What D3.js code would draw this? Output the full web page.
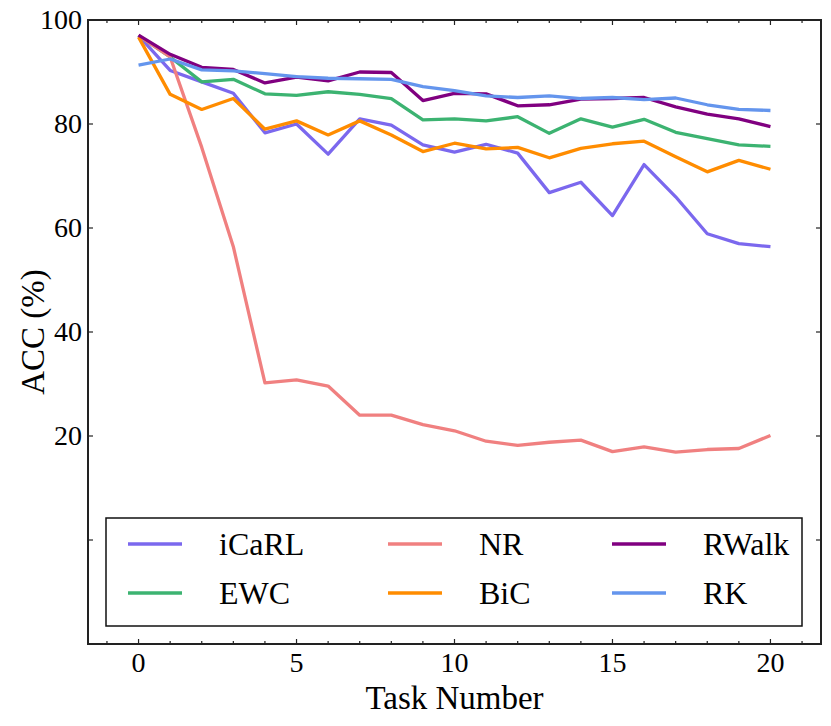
<!DOCTYPE html>
<html>
<head>
<meta charset="utf-8">
<script src="https://cdn.jsdelivr.net/npm/d3@7/dist/d3.min.js"></script>
<style>
  html, body { margin: 0; padding: 0; background: #fff; }
  svg { display: block; }
</style>
</head>
<body>
<svg id="chart" width="831" height="726"></svg>
<script>
const tasks = d3.range(0, 21);
const seriesNames = ["iCaRL", "EWC", "NR", "BiC", "RWalk", "RK"];
const seriesColors = ["#7b68ee", "#3cb371", "#f08080", "#ff8c00", "#800080", "#6495ed"];
const iCaRL = [97.0, 90.3, 88.1, 85.9, 78.3, 80.0, 74.2, 81.0, 79.8, 76.0, 74.6, 76.1, 74.4, 66.8, 68.8, 62.4, 72.2, 66.0, 58.9, 57.0, 56.4];
const EWC   = [97.0, 92.9, 88.1, 88.6, 85.8, 85.5, 86.2, 85.7, 84.9, 80.8, 81.0, 80.6, 81.4, 78.2, 81.0, 79.4, 80.9, 78.4, 77.2, 76.0, 75.7];
const NR    = [97.0, 92.9, 75.5, 56.4, 30.2, 30.8, 29.6, 24.0, 24.0, 22.2, 21.0, 19.0, 18.2, 18.8, 19.2, 17.0, 17.9, 16.9, 17.4, 17.6, 20.1];
const BiC   = [96.7, 85.7, 82.8, 84.9, 79.0, 80.6, 77.9, 80.6, 77.9, 74.7, 76.3, 75.2, 75.5, 73.5, 75.3, 76.2, 76.7, 73.7, 70.8, 73.0, 71.3];
const RWalk = [97.1, 93.4, 90.9, 90.5, 87.9, 89.0, 88.3, 90.0, 89.9, 84.5, 85.9, 85.8, 83.5, 83.7, 84.8, 84.9, 85.1, 83.3, 81.9, 81.0, 79.5];
const RK    = [91.3, 92.5, 90.4, 90.2, 89.7, 89.1, 88.8, 88.7, 88.6, 87.2, 86.4, 85.4, 85.1, 85.4, 84.9, 85.1, 84.7, 85.0, 83.7, 82.8, 82.6];
const seriesValues = [iCaRL, EWC, NR, BiC, RWalk, RK];
const xTicks = [0, 5, 10, 15, 20];
const xMinorTicks = d3.range(-1, 22);
const yTicks = [0, 20, 40, 60, 80, 100];
const yTickLabels = ["", "20", "40", "60", "80", "100"];
const xLabel = "Task Number";
const yLabel = "ACC (%)";

const FONT = "Liberation Serif";
const svg = d3.select("#chart");
const L = 88, R = 821, T = 20, B = 644;
const x = d3.scaleLinear().domain([-1.6, 21.6]).range([L, R]);
const y = d3.scaleLinear().domain([-20, 100]).range([B, T]);

const axisColor = "#222";
const majorLen = 5, minorLen = 3;

// lines
const line = d3.line().x((d, i) => x(tasks[i])).y(d => y(d));
const g = svg.append("g");
seriesValues.forEach((vals, k) => {
  g.append("path")
    .datum(vals)
    .attr("d", line)
    .attr("fill", "none")
    .attr("stroke", seriesColors[k])
    .attr("stroke-width", 3.3)
    .attr("stroke-linejoin", "round")
    .attr("stroke-linecap", "butt");
});

// ticks (inward, on all sides)
const ticks = svg.append("g").attr("stroke", axisColor).attr("stroke-width", 1.2);
xMinorTicks.forEach(t => {
  const len = xTicks.includes(t) ? majorLen : minorLen;
  const px = x(t);
  ticks.append("line").attr("x1", px).attr("x2", px).attr("y1", B).attr("y2", B - len);
  ticks.append("line").attr("x1", px).attr("x2", px).attr("y1", T).attr("y2", T + len);
});
yTicks.forEach(t => {
  const py = y(t);
  ticks.append("line").attr("x1", L).attr("x2", L + majorLen).attr("y1", py).attr("y2", py);
  ticks.append("line").attr("x1", R).attr("x2", R - majorLen).attr("y1", py).attr("y2", py);
});

// frame
svg.append("rect")
  .attr("x", L).attr("y", T).attr("width", R - L).attr("height", B - T)
  .attr("fill", "none").attr("stroke", axisColor).attr("stroke-width", 2);

function txt(sel) { return sel.attr("font-family", FONT).attr("fill", "#000"); }

// tick labels
xTicks.forEach(t => {
  txt(svg.append("text")).attr("x", x(t)).attr("y", B + 28)
    .attr("text-anchor", "middle").attr("font-size", 28).text(String(t));
});
yTicks.forEach((t, i) => {
  txt(svg.append("text")).attr("x", L - 6).attr("y", y(t) + 9)
    .attr("text-anchor", "end").attr("font-size", 28).text(yTickLabels[i]);
});

// axis labels
txt(svg.append("text")).attr("x", (L + R) / 2).attr("y", 709)
  .attr("text-anchor", "middle").attr("font-size", 33).text(xLabel);
txt(svg.append("text"))
  .attr("transform", `translate(44, ${(T + B) / 2}) rotate(-90)`)
  .attr("text-anchor", "middle").attr("font-size", 33).text(yLabel);

// legend
const lg = svg.append("g");
lg.append("rect").attr("x", 106).attr("y", 518).attr("width", 696).attr("height", 108)
  .attr("fill", "#fff").attr("stroke", "#111").attr("stroke-width", 1.5);
const colX = [128, 388, 612];
const rowY = [544, 593];
seriesNames.forEach((name, k) => {
  const c = Math.floor(k / 2), r = k % 2;
  const hx = colX[c], hy = rowY[r];
  lg.append("line").attr("x1", hx).attr("x2", hx + 54).attr("y1", hy).attr("y2", hy)
    .attr("stroke", seriesColors[k]).attr("stroke-width", 3.3);
  txt(lg.append("text")).attr("x", hx + 91).attr("y", hy + 11)
    .attr("font-size", 32).text(name);
});
</script>
</body>
</html>
